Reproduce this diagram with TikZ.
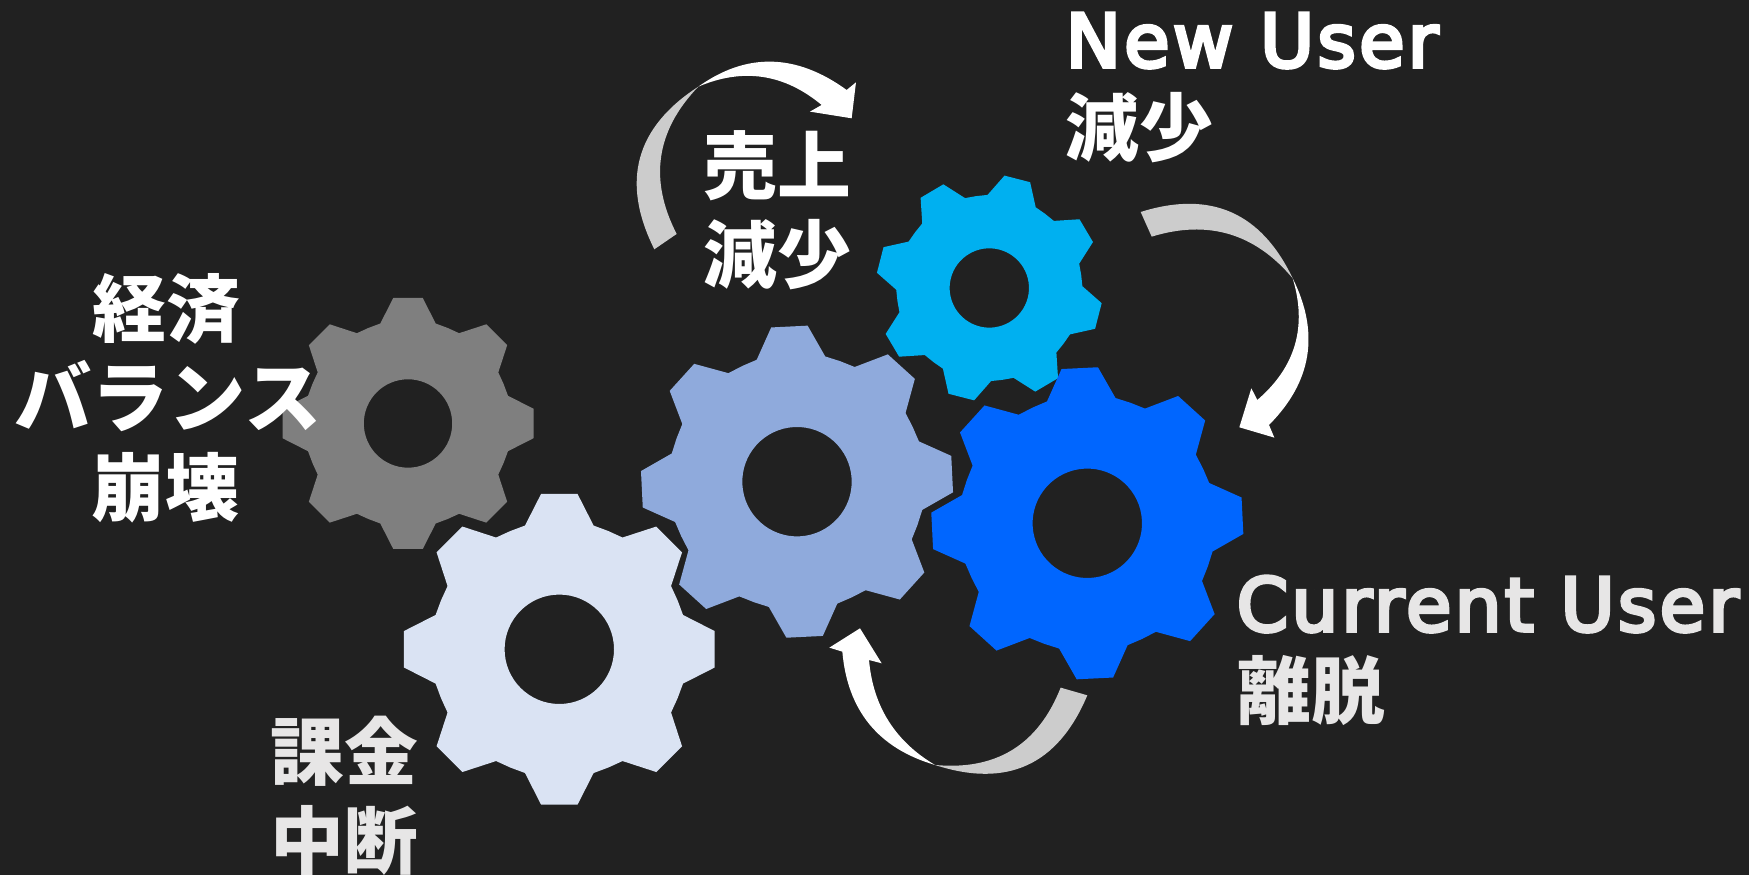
\documentclass[tikz,border=0pt]{standalone}
\usepackage{fontspec}
\newfontfamily\cjkfont{Noto Sans CJK JP}
\newfontfamily\latinfont{DejaVu Sans}[FakeBold=5,LetterSpace=4.5]
\definecolor{bgdark}{HTML}{212121}
\definecolor{gearlight}{HTML}{DAE3F3}
\definecolor{gearmid}{HTML}{8FAADC}
\definecolor{gearblue}{HTML}{0066FF}
\definecolor{gearcyan}{HTML}{00B0F0}
\definecolor{geargrey}{HTML}{7F7F7F}
\definecolor{tailgrey}{HTML}{CCCCCC}
\definecolor{softwhite}{HTML}{E7E6E6}
\tikzset{
    jalabel/.style={inner sep=0pt,font=\cjkfont\bfseries\fontsize{21}{21}\selectfont},
    kanalabel/.style={inner sep=0pt,font=\cjkfont\bfseries\fontsize{22}{22}\selectfont},
    enlabel/.style={inner sep=0pt,anchor=base west,font=\latinfont\fontsize{21}{21}\selectfont},
}
% center, rotation, scale, colour
\newcommand{\drawgear}[5]{
    \begin{scope}[shift={(#1,#2)},rotate=#3,scale=#4]
        \fill[#5,even odd rule] (-15.5:128.4)
            \foreach \t in {0,45,...,315}{
                -- ({\t-15.5}:128.4) -- ({\t-6.7}:156.4) -- ({\t+6.7}:156.4)
                -- ({\t+15.5}:128.4) -- ({\t+22.5}:128)
            } -- cycle
            (0,0) circle (54.7);
    \end{scope}
}

\begin{document}
\begin{tikzpicture}[x=0.1mm,y=0.1mm,line join=miter]
    \useasboundingbox (0,0) rectangle (1749,875);
    \fill[bgdark] (0,0) rectangle (1749,875);

    % gears
    \drawgear{408}{451.5}{0}{0.808}{geargrey}
    \drawgear{559.3}{225.7}{0}{1}{gearlight}
    \drawgear{989.3}{587}{-14.4}{0.725}{gearcyan}
    \drawgear{797}{393.3}{2.8}{1}{gearmid}
    \drawgear{1087.3}{351.7}{2.8}{1}{gearblue}

    % top arrow
    \begin{scope}[shift={(620,835)},xscale=0.3333,yscale=-0.3333]
        \fill[tailgrey] (103,628) .. controls (1.7,425.3) and (45.7,262.7) .. (235,140)
            .. controls (108,271.9) and (86.3,419.2) .. (170,582) -- cycle;
        \fill[white] (235,140) .. controls (380,36.7) and (528.3,40) .. (680,150)
            -- (708,127) -- (695,235) -- (570,215) -- (605,195)
            .. controls (492.3,101.3) and (369,83) .. (235,140) -- cycle;
    \end{scope}

    % right arrow
    \begin{scope}[shift={(1120,685)},xscale=0.3333,yscale=-0.3333]
        \fill[tailgrey] (62,66) .. controls (271.3,0.3) and (423.3,66.7) .. (518,265)
            .. controls (405,130) and (264,88.3) .. (95,140) -- cycle;
        \fill[white] (518,265) .. controls (599.7,428.6) and (576,575.3) .. (447,705)
            -- (463,743) -- (358,712) -- (394,595) -- (412,630)
            .. controls (526.7,531.4) and (562,409.7) .. (518,265) -- cycle;
    \end{scope}

    % bottom arrow
    \begin{scope}[shift={(820,265)},xscale=0.3333,yscale=-0.3333]
        \fill[tailgrey] (802,256) .. controls (713.7,465.7) and (561.3,535.3) .. (345,465)
            .. controls (528.7,481.9) and (654.3,404.6) .. (722,233) -- cycle;
        \fill[white] (345,465) .. controls (175,415) and (82.3,301.7) .. (67,125)
            -- (28,113) -- (120,55) -- (185,160) -- (147,150)
            .. controls (159.1,288.9) and (225.1,393.9) .. (345,465) -- cycle;
    \end{scope}

    % labels
    \node[enlabel,white] (newuser) at (1065,808) {New User};
    \node[jalabel,white] (newdown) at (1139,747) {減少};
    \node[jalabel,white] (salesa) at (777.7,709) {売上};
    \node[jalabel,white] (salesb) at (777.7,620) {減少};
    \node[jalabel,white] (econa) at (166,566) {経済};
    \node[kanalabel,white] (econb) at (168,479) {バランス};
    \node[jalabel,white] (econc) at (165,387) {崩壊};
    \node[enlabel,softwhite] (curuser) at (1236,244) {Current User};
    \node[jalabel,softwhite] (curdown) at (1311,184) {離脱};
    \node[jalabel,softwhite] (paya) at (344,124) {課金};
    \node[jalabel,softwhite] (payb) at (344,35) {中断};
\end{tikzpicture}
\end{document}
